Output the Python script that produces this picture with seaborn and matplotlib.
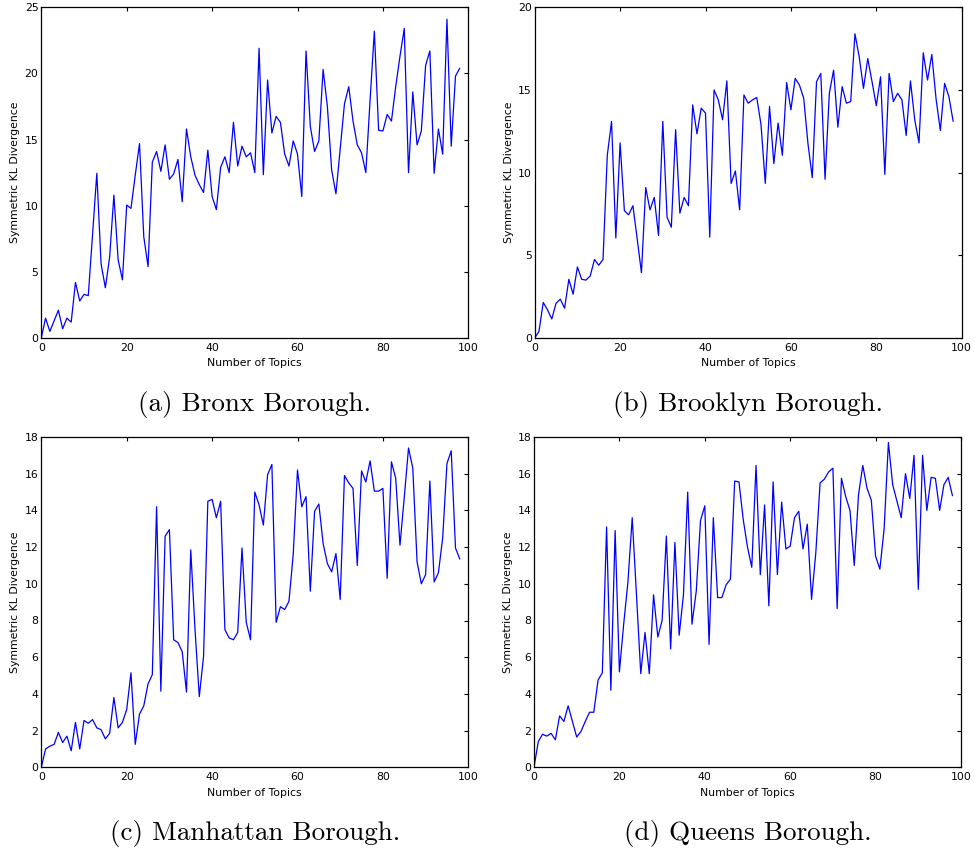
import matplotlib
matplotlib.use("Agg")
import matplotlib.pyplot as plt
import seaborn as sns
import pandas as pd

topics = list(range(99))

bronx = [0, 1.5, 0.5, 1.3, 2.1, 0.7, 1.5, 1.2, 4.2, 2.8,
         3.3, 3.2, 7.8, 12.45, 5.6, 3.8, 6.1, 10.8, 5.9, 4.4,
         10.05, 9.8, 12.3, 14.7, 7.65, 5.4, 13.3, 14.1, 12.6, 14.6,
         12.0, 12.4, 13.5, 10.3, 15.8, 13.7, 12.3, 11.6, 11.0, 14.2,
         10.7, 9.7, 12.9, 13.7, 12.5, 16.3, 13.0, 14.5, 13.7, 14.0,
         12.5, 21.9, 12.35, 19.5, 15.5, 16.75, 16.3, 13.9, 13.0, 14.9,
         13.9, 10.7, 21.7, 16.0, 14.1, 14.9, 20.3, 17.5, 12.7, 10.9,
         14.3, 17.7, 19.0, 16.4, 14.6, 14.0, 12.5, 18.0, 23.2, 15.7,
         15.65, 16.9, 16.4, 19.0, 21.3, 23.4, 12.5, 18.6, 14.6, 15.65,
         20.6, 21.7, 12.45, 15.8, 13.9, 24.1, 14.5, 19.8, 20.4]

brooklyn = [0, 0.4, 2.15, 1.7, 1.15, 2.1, 2.35, 1.8, 3.55, 2.65,
            4.3, 3.55, 3.5, 3.75, 4.75, 4.4, 4.75, 11.05, 13.1, 6.05,
            11.8, 7.7, 7.45, 8.0, 6.0, 3.95, 9.1, 7.75, 8.5, 6.2,
            13.1, 7.3, 6.7, 12.6, 7.55, 8.5, 8.0, 14.1, 12.35, 13.9,
            13.6, 6.1, 15.0, 14.4, 13.2, 15.55, 9.35, 10.1, 7.75, 14.7,
            14.2, 14.4, 14.55, 12.9, 9.35, 14.0, 10.55, 13.0, 11.05, 15.45,
            13.8, 15.7, 15.3, 14.5, 11.75, 9.7, 15.5, 16.0, 9.6, 14.8,
            16.2, 12.75, 15.2, 14.2, 14.3, 18.4, 17.0, 15.1, 16.9, 15.5,
            14.05, 15.8, 9.9, 16.0, 14.3, 14.8, 14.4, 12.25, 15.55, 13.2,
            11.8, 17.25, 15.6, 17.15, 14.45, 12.55, 15.4, 14.6, 13.1]

manhattan = [0, 1.0, 1.15, 1.25, 1.9, 1.35, 1.7, 0.9, 2.45, 1.0,
             2.55, 2.4, 2.6, 2.15, 2.05, 1.55, 1.85, 3.8, 2.15, 2.45,
             3.15, 5.15, 1.25, 2.9, 3.35, 4.55, 5.05, 14.2, 4.15, 12.6,
             12.95, 6.95, 6.8, 6.3, 4.1, 11.85, 7.5, 3.85, 6.05, 14.5,
             14.6, 13.6, 14.5, 7.5, 7.05, 6.95, 7.35, 11.95, 7.9, 6.95,
             15.0, 14.3, 13.2, 15.95, 16.5, 7.9, 8.75, 8.6, 9.05, 11.6,
             16.2, 14.2, 14.75, 9.6, 13.95, 14.35, 12.2, 11.1, 10.65, 11.65,
             9.15, 15.9, 15.5, 15.2, 11.0, 16.15, 15.55, 16.7, 15.05, 15.05,
             15.2, 10.3, 16.65, 15.75, 12.1, 14.7, 17.4, 16.3, 11.2, 10.0,
             10.5, 15.6, 10.1, 10.6, 12.5, 16.55, 17.25, 11.95, 11.35]

queens = [0, 1.4, 1.8, 1.7, 1.85, 1.5, 2.8, 2.5, 3.35, 2.5,
          1.65, 1.95, 2.5, 3.0, 3.0, 4.75, 5.15, 13.1, 4.2, 12.9,
          5.2, 7.8, 10.1, 13.6, 9.4, 5.1, 7.35, 5.1, 9.4, 7.1,
          8.0, 12.6, 6.45, 12.25, 7.2, 9.4, 15.0, 7.8, 9.6, 13.45,
          14.25, 6.7, 13.6, 9.25, 9.25, 9.95, 10.25, 15.6, 15.55, 13.5,
          12.0, 10.9, 16.45, 10.5, 14.3, 8.8, 15.55, 10.5, 14.45, 11.9,
          12.05, 13.6, 13.95, 11.9, 13.25, 9.15, 11.7, 15.5, 15.7, 16.1,
          16.3, 8.65, 15.75, 14.75, 14.0, 11.0, 14.85, 16.45, 15.2, 14.55,
          11.5, 10.8, 13.0, 17.7, 15.4, 14.5, 13.6, 16.0, 14.65, 17.0,
          9.7, 17.0, 14.0, 15.8, 15.75, 14.0, 15.4, 15.8, 14.8]

captions = ["(a) Bronx Borough.", "(b) Brooklyn Borough.",
            "(c) Manhattan Borough.", "(d) Queens Borough."]
series = [bronx, brooklyn, manhattan, queens]
ylims = [25, 20, 18, 18]
ysteps = [5, 5, 2, 2]
xlabel = "Number of Topics"
ylabel = "Symmetric KL Divergence"

sns.set_style("white")
plt.rcParams.update({
    "font.family": ["DejaVu Sans"],
    "text.color": "black", "axes.labelcolor": "black",
    "xtick.direction": "in", "ytick.direction": "in",
    "xtick.top": True, "ytick.right": True,
    "xtick.major.size": 3.0, "ytick.major.size": 3.0,
    "xtick.major.width": 0.8, "ytick.major.width": 0.8,
    "xtick.color": "black", "ytick.color": "black",
    "xtick.labelcolor": "black", "ytick.labelcolor": "black",
    "axes.edgecolor": "black", "axes.linewidth": 0.9,
    "xtick.major.pad": 3.5, "ytick.major.pad": 2.0,
})

W, H = 974, 855
fig = plt.figure(figsize=(W / 100, H / 100), dpi=100)

boxes = [(41.3, 7.3, 468.3, 338.0), (534.7, 7.3, 961.7, 338.0),
         (41.3, 437.0, 468.3, 767.3), (534.0, 437.0, 961.0, 767.3)]
cap_y = [405, 405, 833, 833]

for i, (x0, y0, x1, y1) in enumerate(boxes):
    ax = fig.add_axes([x0 / W, 1 - y1 / H, (x1 - x0) / W, (y1 - y0) / H])
    df = pd.DataFrame({"topics": topics, "kl": series[i]})
    sns.lineplot(data=df, x="topics", y="kl", ax=ax, color="#0000ff", linewidth=0.9)
    ax.set_xlim(0, 100)
    ax.set_ylim(0, ylims[i])
    ax.set_xticks(range(0, 101, 20))
    ax.set_yticks(range(0, ylims[i] + 1, ysteps[i]))
    ax.tick_params(labelsize=7.8)
    ax.set_xlabel(xlabel, fontsize=7.8, labelpad=4)
    ax.set_ylabel(ylabel, fontsize=7.8, labelpad=3)
    for s in ax.spines.values():
        s.set_visible(True)
        s.set_color("black")
    fig.text((x0 + x1) / 2 / W, 1 - cap_y[i] / H, captions[i],
             ha="center", va="center", fontsize=19.5, family="cmr10",
             color="black")

fig.savefig("out.png", dpi=100)
